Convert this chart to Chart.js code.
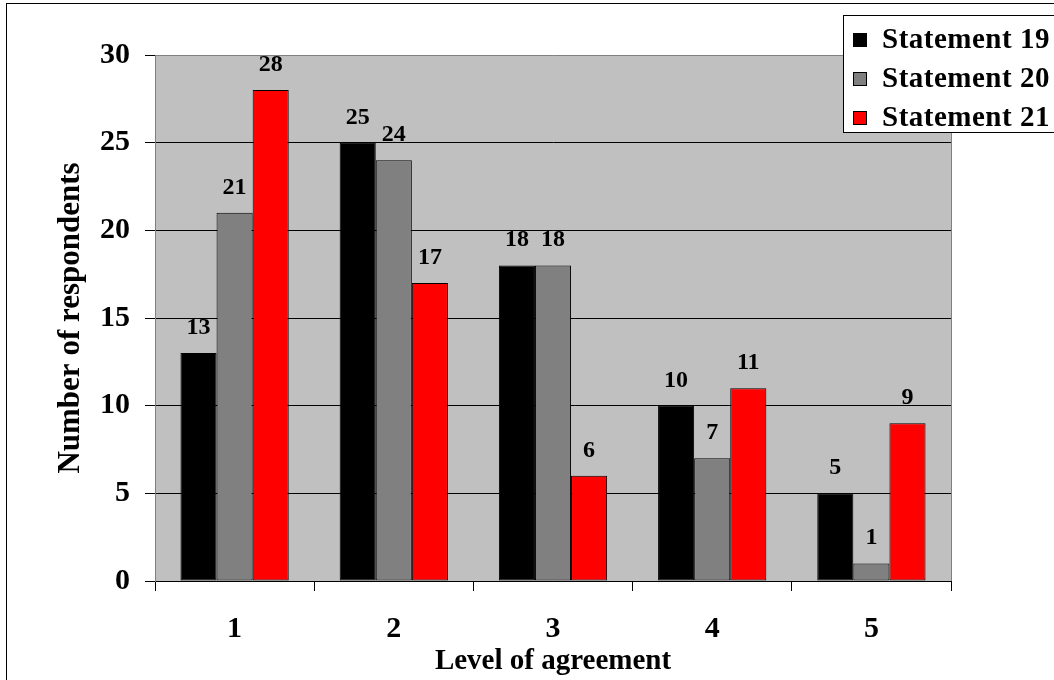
<!DOCTYPE html>
<html>
<head>
<meta charset="utf-8">
<title>Level of agreement</title>
<script src="https://cdn.jsdelivr.net/npm/chart.js@4.4.1/dist/chart.umd.min.js"></script>
<style>
  html, body { margin: 0; padding: 0; background: #ffffff; }
  #wrap { width: 1054px; height: 680px; position: relative; overflow: hidden; }
  canvas { display: block; }
</style>
</head>
<body>
<div id="wrap"><canvas id="chart" width="1054" height="680"></canvas></div>
<script>
// Agreement levels on the x axis
const categories = ['1', '2', '3', '4', '5'];

// Respondent counts for each statement
const statement19 = [13, 25, 18, 10, 5];
const statement20 = [21, 24, 18, 7, 1];
const statement21 = [28, 17, 6, 11, 9];

const seriesNames = ['Statement 19', 'Statement 20', 'Statement 21'];
const seriesColors = ['#000000', '#808080', '#ff0000'];

// y axis range
const yMin = 0;
const yMax = 30;
const yStep = 5;

const FONT = '"Liberation Serif", "Times New Roman", serif';

// Gray plot background, right frame line and the outer border
const frame = {
  id: 'frame',
  beforeDraw(chart) {
    const { ctx, chartArea: a } = chart;
    ctx.save();
    ctx.fillStyle = '#ffffff';
    ctx.fillRect(0, 0, chart.width, chart.height);
    ctx.fillStyle = '#c0c0c0';
    ctx.fillRect(a.left, a.top, a.right - a.left, a.bottom - a.top);
    ctx.restore();
  },
  beforeDatasetsDraw(chart) {
    const { ctx, chartArea: a } = chart;
    ctx.save();
    ctx.strokeStyle = '#808080';
    ctx.lineWidth = 1;
    ctx.beginPath();
    ctx.moveTo(Math.round(a.right) + 0.5, a.top);
    ctx.lineTo(Math.round(a.right) + 0.5, a.bottom);
    ctx.stroke();
    ctx.restore();
  },
  afterDraw(chart) {
    const { ctx } = chart;
    ctx.save();
    ctx.strokeStyle = '#000000';
    ctx.lineWidth = 1;
    ctx.strokeRect(6.5, 3.5, 2000, 2000);
    ctx.restore();
  }
};

// Value printed above every bar
const valueLabels = {
  id: 'valueLabels',
  afterDatasetsDraw(chart) {
    const { ctx } = chart;
    ctx.save();
    ctx.font = 'bold 24px ' + FONT;
    ctx.fillStyle = '#000000';
    ctx.textAlign = 'center';
    ctx.textBaseline = 'alphabetic';
    chart.data.datasets.forEach((ds, i) => {
      const meta = chart.getDatasetMeta(i);
      meta.data.forEach((bar, j) => {
        ctx.fillText(String(ds.data[j]), bar.x, bar.y - 19);
      });
    });
    ctx.restore();
  }
};

// Boxed legend in the upper right corner
const boxLegend = {
  id: 'boxLegend',
  afterDraw(chart) {
    const { ctx } = chart;
    const left = 843, top = 15, bottom = 132;
    ctx.save();
    ctx.fillStyle = '#ffffff';
    ctx.fillRect(left, top, 400, bottom - top);
    ctx.strokeStyle = '#000000';
    ctx.lineWidth = 1;
    ctx.strokeRect(left + 0.5, top + 0.5, 400, bottom - top);
    ctx.font = 'bold 29px ' + FONT;
    if ('letterSpacing' in ctx) ctx.letterSpacing = '0.5px';
    ctx.textAlign = 'left';
    ctx.textBaseline = 'middle';
    chart.data.datasets.forEach((ds, i) => {
      const cy = 40 + i * 39;
      ctx.fillStyle = ds.backgroundColor;
      ctx.fillRect(853, cy - 7, 14, 14);
      ctx.strokeStyle = '#000000';
      ctx.strokeRect(853.5, cy - 6.5, 13, 13);
      ctx.fillStyle = '#000000';
      ctx.fillText(ds.label, 882, cy + 1);
    });
    ctx.restore();
  }
};

const datasets = [statement19, statement20, statement21].map((values, i) => ({
  label: seriesNames[i],
  data: values,
  backgroundColor: seriesColors[i],
  borderColor: '#000000',
  borderWidth: 1,
  borderSkipped: false,
  categoryPercentage: 0.68,
  barPercentage: 1.0
}));

new Chart(document.getElementById('chart'), {
  type: 'bar',
  data: { labels: categories, datasets },
  plugins: [frame, valueLabels, boxLegend],
  options: {
    responsive: false,
    animation: false,
    devicePixelRatio: 1,
    layout: { padding: { left: 0, top: 55, right: 103, bottom: 0 } },
    plugins: {
      legend: { display: false },
      tooltip: { enabled: false }
    },
    scales: {
      x: {
        grid: {
          offset: true,
          drawOnChartArea: false,
          drawTicks: true,
          tickLength: 10,
          tickColor: '#000000'
        },
        border: { display: true, color: '#000000', width: 1 },
        ticks: {
          color: '#000000',
          padding: 20,
          font: { family: FONT, size: 30, weight: 'bold' }
        },
        title: {
          display: true,
          text: 'Level of agreement',
          color: '#000000',
          padding: { top: 0, bottom: 1 },
          font: { family: FONT, size: 29, weight: 'bold' }
        },
        afterFit(scale) { scale.height = 99; }
      },
      y: {
        min: yMin,
        max: yMax,
        ticks: {
          stepSize: yStep,
          color: '#000000',
          padding: 15,
          font: { family: FONT, size: 30, weight: 'bold' }
        },
        grid: {
          color: (c) => (c.tick && c.tick.value === yMax ? '#808080' : '#000000'),
          lineWidth: 1,
          drawTicks: true,
          tickLength: 10,
          tickColor: '#000000'
        },
        border: { display: true, color: '#808080', width: 1 },
        title: {
          display: true,
          text: 'Number of respondents',
          color: '#000000',
          padding: { top: 52, bottom: 0 },
          font: { family: FONT, size: 31, weight: 'bold' }
        },
        afterFit(scale) { scale.width = 155; }
      }
    }
  }
});
</script>
</body>
</html>
